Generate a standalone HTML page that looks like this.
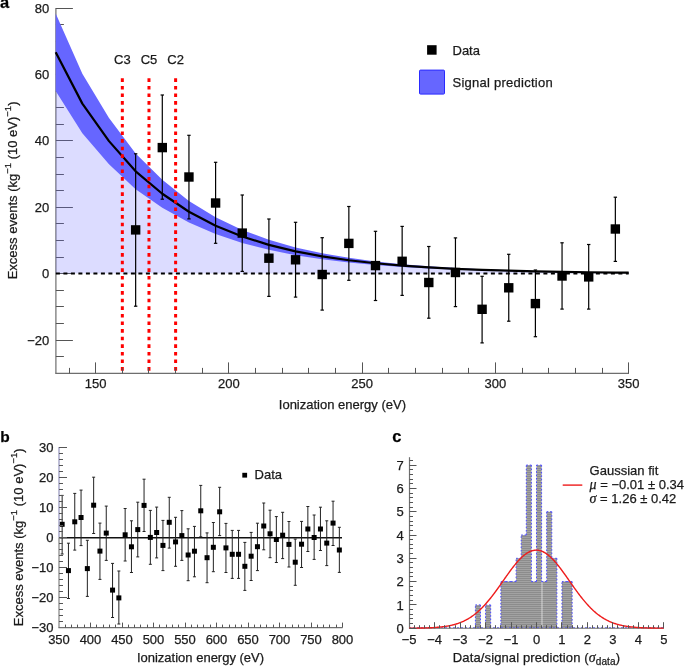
<!DOCTYPE html>
<html><head><meta charset="utf-8"><style>
html,body{margin:0;padding:0;background:#fff;}
svg{display:block;font-family:"Liberation Sans", sans-serif;will-change:transform;} text{stroke:#1a1a1a;stroke-width:0.25px;}
</style></head><body>
<svg width="685" height="666" viewBox="0 0 685 666">
<rect width="685" height="666" fill="#fff"/>
<line x1="55.9" y1="8" x2="55.9" y2="373.4" stroke="#6e6e6e" stroke-width="1.2"/>
<line x1="55.9" y1="356.50" x2="63.9" y2="356.50" stroke="#555" stroke-width="1"/>
<line x1="55.9" y1="340.50" x2="72.9" y2="340.50" stroke="#555" stroke-width="1"/>
<line x1="55.9" y1="323.50" x2="63.9" y2="323.50" stroke="#555" stroke-width="1"/>
<line x1="55.9" y1="306.50" x2="63.9" y2="306.50" stroke="#555" stroke-width="1"/>
<line x1="55.9" y1="290.50" x2="63.9" y2="290.50" stroke="#555" stroke-width="1"/>
<line x1="55.9" y1="273.50" x2="72.9" y2="273.50" stroke="#555" stroke-width="1"/>
<line x1="55.9" y1="257.50" x2="63.9" y2="257.50" stroke="#555" stroke-width="1"/>
<line x1="55.9" y1="240.50" x2="63.9" y2="240.50" stroke="#555" stroke-width="1"/>
<line x1="55.9" y1="223.50" x2="63.9" y2="223.50" stroke="#555" stroke-width="1"/>
<line x1="55.9" y1="207.50" x2="72.9" y2="207.50" stroke="#555" stroke-width="1"/>
<line x1="55.9" y1="190.50" x2="63.9" y2="190.50" stroke="#555" stroke-width="1"/>
<line x1="55.9" y1="174.50" x2="63.9" y2="174.50" stroke="#555" stroke-width="1"/>
<line x1="55.9" y1="157.50" x2="63.9" y2="157.50" stroke="#555" stroke-width="1"/>
<line x1="55.9" y1="140.50" x2="72.9" y2="140.50" stroke="#555" stroke-width="1"/>
<line x1="55.9" y1="124.50" x2="63.9" y2="124.50" stroke="#555" stroke-width="1"/>
<line x1="55.9" y1="107.50" x2="63.9" y2="107.50" stroke="#555" stroke-width="1"/>
<line x1="55.9" y1="91.50" x2="63.9" y2="91.50" stroke="#555" stroke-width="1"/>
<line x1="55.9" y1="74.50" x2="72.9" y2="74.50" stroke="#555" stroke-width="1"/>
<line x1="55.9" y1="57.50" x2="63.9" y2="57.50" stroke="#555" stroke-width="1"/>
<line x1="55.9" y1="41.50" x2="63.9" y2="41.50" stroke="#555" stroke-width="1"/>
<line x1="55.9" y1="24.50" x2="63.9" y2="24.50" stroke="#555" stroke-width="1"/>
<line x1="55.9" y1="8.50" x2="72.9" y2="8.50" stroke="#555" stroke-width="1"/>
<polygon points="55.70,273.60 55.70,52.16 82.35,103.62 109.00,141.13 135.65,171.34 162.30,193.78 188.95,211.75 215.60,225.68 242.25,236.47 268.90,244.83 295.55,251.31 322.20,256.33 348.85,260.22 375.50,263.23 402.15,265.56 428.80,267.37 455.45,268.78 482.10,269.86 508.75,270.70 535.40,271.36 562.05,271.86 588.70,272.25 615.35,272.56 628.68,272.68 628.68,273.60" fill="rgb(102,102,255)" fill-opacity="0.23"/>
<polygon points="55.70,13.40 82.35,73.87 109.00,117.95 135.65,153.45 162.30,179.81 188.95,200.93 215.60,217.29 242.25,229.97 268.90,239.79 295.55,247.41 322.20,253.30 348.85,257.87 375.50,261.41 402.15,264.16 428.80,266.28 455.45,267.93 482.10,269.21 508.75,270.20 535.40,270.96 562.05,271.56 588.70,272.02 615.35,272.37 628.68,272.52 628.68,272.84 615.35,272.74 588.70,272.49 562.05,272.17 535.40,271.75 508.75,271.21 482.10,270.52 455.45,269.62 428.80,268.46 402.15,266.97 375.50,265.04 348.85,262.56 322.20,259.35 295.55,255.21 268.90,249.86 242.25,242.97 215.60,234.07 188.95,222.58 162.30,207.75 135.65,189.24 109.00,164.31 82.35,133.36 55.70,90.91" fill="#6666ff"/>
<line x1="55.9" y1="273.60" x2="628.68" y2="273.60" stroke="#000" stroke-width="2" stroke-dasharray="4 3.5"/>
<polyline points="55.70,52.16 82.35,103.62 109.00,141.13 135.65,171.34 162.30,193.78 188.95,211.75 215.60,225.68 242.25,236.47 268.90,244.83 295.55,251.31 322.20,256.33 348.85,260.22 375.50,263.23 402.15,265.56 428.80,267.37 455.45,268.78 482.10,269.86 508.75,270.70 535.40,271.36 562.05,271.86 588.70,272.25 615.35,272.56 628.68,272.68" fill="none" stroke="#000" stroke-width="2.2" stroke-linejoin="round"/>
<line x1="122.33" y1="78.3" x2="122.33" y2="373.4" stroke="#ff0000" stroke-width="3" stroke-dasharray="3.6 4.0"/>
<line x1="148.98" y1="78.3" x2="148.98" y2="373.4" stroke="#ff0000" stroke-width="3" stroke-dasharray="3.6 4.0"/>
<line x1="175.62" y1="78.3" x2="175.62" y2="373.4" stroke="#ff0000" stroke-width="3" stroke-dasharray="3.6 4.0"/>
<text x="122.33" y="64" text-anchor="middle" font-size="13" fill="#1a1a1a">C3</text>
<text x="148.98" y="64" text-anchor="middle" font-size="13" fill="#1a1a1a">C5</text>
<text x="175.62" y="64" text-anchor="middle" font-size="13" fill="#1a1a1a">C2</text>
<line x1="135.65" y1="153.8" x2="135.65" y2="306.2" stroke="#000" stroke-width="1.2"/>
<line x1="133.95" y1="153.8" x2="137.35" y2="153.8" stroke="#000" stroke-width="1.2"/>
<line x1="133.95" y1="306.2" x2="137.35" y2="306.2" stroke="#000" stroke-width="1.2"/>
<rect x="130.95" y="225.20" width="9.4" height="9.4" fill="#000"/>
<line x1="162.30" y1="95.0" x2="162.30" y2="199.2" stroke="#000" stroke-width="1.2"/>
<line x1="160.60" y1="95.0" x2="164.00" y2="95.0" stroke="#000" stroke-width="1.2"/>
<line x1="160.60" y1="199.2" x2="164.00" y2="199.2" stroke="#000" stroke-width="1.2"/>
<rect x="157.60" y="142.90" width="9.4" height="9.4" fill="#000"/>
<line x1="188.95" y1="135.3" x2="188.95" y2="218.9" stroke="#000" stroke-width="1.2"/>
<line x1="187.25" y1="135.3" x2="190.65" y2="135.3" stroke="#000" stroke-width="1.2"/>
<line x1="187.25" y1="218.9" x2="190.65" y2="218.9" stroke="#000" stroke-width="1.2"/>
<rect x="184.25" y="172.30" width="9.4" height="9.4" fill="#000"/>
<line x1="215.60" y1="162.3" x2="215.60" y2="243.3" stroke="#000" stroke-width="1.2"/>
<line x1="213.90" y1="162.3" x2="217.30" y2="162.3" stroke="#000" stroke-width="1.2"/>
<line x1="213.90" y1="243.3" x2="217.30" y2="243.3" stroke="#000" stroke-width="1.2"/>
<rect x="210.90" y="198.30" width="9.4" height="9.4" fill="#000"/>
<line x1="242.25" y1="195.0" x2="242.25" y2="271.4" stroke="#000" stroke-width="1.2"/>
<line x1="240.55" y1="195.0" x2="243.95" y2="195.0" stroke="#000" stroke-width="1.2"/>
<line x1="240.55" y1="271.4" x2="243.95" y2="271.4" stroke="#000" stroke-width="1.2"/>
<rect x="237.55" y="228.40" width="9.4" height="9.4" fill="#000"/>
<line x1="268.90" y1="219.0" x2="268.90" y2="296.4" stroke="#000" stroke-width="1.2"/>
<line x1="267.20" y1="219.0" x2="270.60" y2="219.0" stroke="#000" stroke-width="1.2"/>
<line x1="267.20" y1="296.4" x2="270.60" y2="296.4" stroke="#000" stroke-width="1.2"/>
<rect x="264.20" y="253.50" width="9.4" height="9.4" fill="#000"/>
<line x1="295.55" y1="222.3" x2="295.55" y2="297.1" stroke="#000" stroke-width="1.2"/>
<line x1="293.85" y1="222.3" x2="297.25" y2="222.3" stroke="#000" stroke-width="1.2"/>
<line x1="293.85" y1="297.1" x2="297.25" y2="297.1" stroke="#000" stroke-width="1.2"/>
<rect x="290.85" y="255.10" width="9.4" height="9.4" fill="#000"/>
<line x1="322.20" y1="237.7" x2="322.20" y2="310.1" stroke="#000" stroke-width="1.2"/>
<line x1="320.50" y1="237.7" x2="323.90" y2="237.7" stroke="#000" stroke-width="1.2"/>
<line x1="320.50" y1="310.1" x2="323.90" y2="310.1" stroke="#000" stroke-width="1.2"/>
<rect x="317.50" y="269.80" width="9.4" height="9.4" fill="#000"/>
<line x1="348.85" y1="206.5" x2="348.85" y2="280.3" stroke="#000" stroke-width="1.2"/>
<line x1="347.15" y1="206.5" x2="350.55" y2="206.5" stroke="#000" stroke-width="1.2"/>
<line x1="347.15" y1="280.3" x2="350.55" y2="280.3" stroke="#000" stroke-width="1.2"/>
<rect x="344.15" y="238.70" width="9.4" height="9.4" fill="#000"/>
<line x1="375.50" y1="231.3" x2="375.50" y2="300.5" stroke="#000" stroke-width="1.2"/>
<line x1="373.80" y1="231.3" x2="377.20" y2="231.3" stroke="#000" stroke-width="1.2"/>
<line x1="373.80" y1="300.5" x2="377.20" y2="300.5" stroke="#000" stroke-width="1.2"/>
<rect x="370.80" y="260.90" width="9.4" height="9.4" fill="#000"/>
<line x1="402.15" y1="226.4" x2="402.15" y2="295.4" stroke="#000" stroke-width="1.2"/>
<line x1="400.45" y1="226.4" x2="403.85" y2="226.4" stroke="#000" stroke-width="1.2"/>
<line x1="400.45" y1="295.4" x2="403.85" y2="295.4" stroke="#000" stroke-width="1.2"/>
<rect x="397.45" y="256.60" width="9.4" height="9.4" fill="#000"/>
<line x1="428.80" y1="246.5" x2="428.80" y2="318.2" stroke="#000" stroke-width="1.2"/>
<line x1="427.10" y1="246.5" x2="430.50" y2="246.5" stroke="#000" stroke-width="1.2"/>
<line x1="427.10" y1="318.2" x2="430.50" y2="318.2" stroke="#000" stroke-width="1.2"/>
<rect x="424.10" y="277.80" width="9.4" height="9.4" fill="#000"/>
<line x1="455.45" y1="237.9" x2="455.45" y2="306.6" stroke="#000" stroke-width="1.2"/>
<line x1="453.75" y1="237.9" x2="457.15" y2="237.9" stroke="#000" stroke-width="1.2"/>
<line x1="453.75" y1="306.6" x2="457.15" y2="306.6" stroke="#000" stroke-width="1.2"/>
<rect x="450.75" y="267.80" width="9.4" height="9.4" fill="#000"/>
<line x1="482.10" y1="276.3" x2="482.10" y2="342.9" stroke="#000" stroke-width="1.2"/>
<line x1="480.40" y1="276.3" x2="483.80" y2="276.3" stroke="#000" stroke-width="1.2"/>
<line x1="480.40" y1="342.9" x2="483.80" y2="342.9" stroke="#000" stroke-width="1.2"/>
<rect x="477.40" y="304.60" width="9.4" height="9.4" fill="#000"/>
<line x1="508.75" y1="254.3" x2="508.75" y2="321.2" stroke="#000" stroke-width="1.2"/>
<line x1="507.05" y1="254.3" x2="510.45" y2="254.3" stroke="#000" stroke-width="1.2"/>
<line x1="507.05" y1="321.2" x2="510.45" y2="321.2" stroke="#000" stroke-width="1.2"/>
<rect x="504.05" y="283.10" width="9.4" height="9.4" fill="#000"/>
<line x1="535.40" y1="270.0" x2="535.40" y2="336.7" stroke="#000" stroke-width="1.2"/>
<line x1="533.70" y1="270.0" x2="537.10" y2="270.0" stroke="#000" stroke-width="1.2"/>
<line x1="533.70" y1="336.7" x2="537.10" y2="336.7" stroke="#000" stroke-width="1.2"/>
<rect x="530.70" y="298.90" width="9.4" height="9.4" fill="#000"/>
<line x1="562.05" y1="242.8" x2="562.05" y2="309.1" stroke="#000" stroke-width="1.2"/>
<line x1="560.35" y1="242.8" x2="563.75" y2="242.8" stroke="#000" stroke-width="1.2"/>
<line x1="560.35" y1="309.1" x2="563.75" y2="309.1" stroke="#000" stroke-width="1.2"/>
<rect x="557.35" y="271.30" width="9.4" height="9.4" fill="#000"/>
<line x1="588.70" y1="244.5" x2="588.70" y2="309.1" stroke="#000" stroke-width="1.2"/>
<line x1="587.00" y1="244.5" x2="590.40" y2="244.5" stroke="#000" stroke-width="1.2"/>
<line x1="587.00" y1="309.1" x2="590.40" y2="309.1" stroke="#000" stroke-width="1.2"/>
<rect x="584.00" y="272.20" width="9.4" height="9.4" fill="#000"/>
<line x1="615.35" y1="197.2" x2="615.35" y2="261.4" stroke="#000" stroke-width="1.2"/>
<line x1="613.65" y1="197.2" x2="617.05" y2="197.2" stroke="#000" stroke-width="1.2"/>
<line x1="613.65" y1="261.4" x2="617.05" y2="261.4" stroke="#000" stroke-width="1.2"/>
<rect x="610.65" y="224.30" width="9.4" height="9.4" fill="#000"/>
<line x1="55.3" y1="373.4" x2="629.0" y2="373.4" stroke="#6e6e6e" stroke-width="1.2"/>
<text x="49.3" y="344.65" text-anchor="end" font-size="13" fill="#1a1a1a">−20</text>
<text x="49.3" y="278.25" text-anchor="end" font-size="13" fill="#1a1a1a">0</text>
<text x="49.3" y="211.85" text-anchor="end" font-size="13" fill="#1a1a1a">20</text>
<text x="49.3" y="145.45" text-anchor="end" font-size="13" fill="#1a1a1a">40</text>
<text x="49.3" y="79.05" text-anchor="end" font-size="13" fill="#1a1a1a">60</text>
<text x="49.3" y="12.65" text-anchor="end" font-size="13" fill="#1a1a1a">80</text>
<line x1="69.50" y1="373.4" x2="69.50" y2="367.9" stroke="#555" stroke-width="1"/>
<line x1="95.50" y1="373.4" x2="95.50" y2="362.4" stroke="#555" stroke-width="1"/>
<text x="95.68" y="388.4" text-anchor="middle" font-size="13" fill="#1a1a1a">150</text>
<line x1="122.50" y1="373.4" x2="122.50" y2="367.9" stroke="#555" stroke-width="1"/>
<line x1="148.50" y1="373.4" x2="148.50" y2="367.9" stroke="#555" stroke-width="1"/>
<line x1="175.50" y1="373.4" x2="175.50" y2="367.9" stroke="#555" stroke-width="1"/>
<line x1="202.50" y1="373.4" x2="202.50" y2="367.9" stroke="#555" stroke-width="1"/>
<line x1="228.50" y1="373.4" x2="228.50" y2="362.4" stroke="#555" stroke-width="1"/>
<text x="228.93" y="388.4" text-anchor="middle" font-size="13" fill="#1a1a1a">200</text>
<line x1="255.50" y1="373.4" x2="255.50" y2="367.9" stroke="#555" stroke-width="1"/>
<line x1="282.50" y1="373.4" x2="282.50" y2="367.9" stroke="#555" stroke-width="1"/>
<line x1="308.50" y1="373.4" x2="308.50" y2="367.9" stroke="#555" stroke-width="1"/>
<line x1="335.50" y1="373.4" x2="335.50" y2="367.9" stroke="#555" stroke-width="1"/>
<line x1="362.50" y1="373.4" x2="362.50" y2="362.4" stroke="#555" stroke-width="1"/>
<text x="362.18" y="388.4" text-anchor="middle" font-size="13" fill="#1a1a1a">250</text>
<line x1="388.50" y1="373.4" x2="388.50" y2="367.9" stroke="#555" stroke-width="1"/>
<line x1="415.50" y1="373.4" x2="415.50" y2="367.9" stroke="#555" stroke-width="1"/>
<line x1="442.50" y1="373.4" x2="442.50" y2="367.9" stroke="#555" stroke-width="1"/>
<line x1="468.50" y1="373.4" x2="468.50" y2="367.9" stroke="#555" stroke-width="1"/>
<line x1="495.50" y1="373.4" x2="495.50" y2="362.4" stroke="#555" stroke-width="1"/>
<text x="495.43" y="388.4" text-anchor="middle" font-size="13" fill="#1a1a1a">300</text>
<line x1="522.50" y1="373.4" x2="522.50" y2="367.9" stroke="#555" stroke-width="1"/>
<line x1="548.50" y1="373.4" x2="548.50" y2="367.9" stroke="#555" stroke-width="1"/>
<line x1="575.50" y1="373.4" x2="575.50" y2="367.9" stroke="#555" stroke-width="1"/>
<line x1="602.50" y1="373.4" x2="602.50" y2="367.9" stroke="#555" stroke-width="1"/>
<line x1="628.50" y1="373.4" x2="628.50" y2="362.4" stroke="#555" stroke-width="1"/>
<text x="628.68" y="388.4" text-anchor="middle" font-size="13" fill="#1a1a1a">350</text>
<text x="342.4" y="409.3" text-anchor="middle" font-size="13" fill="#1a1a1a">Ionization energy (eV)</text>
<text transform="translate(16.8,279.3) rotate(-90)" x="0" y="0" font-size="13" fill="#1a1a1a">Excess events (kg<tspan dy="-6" font-size="9.5">−1</tspan><tspan dy="6"> (10 eV)</tspan><tspan dy="-6" font-size="9.5">−1</tspan><tspan dy="6">)</tspan></text>
<rect x="427.1" y="45.2" width="9.5" height="9.5" fill="#000"/>
<text x="452.5" y="55" font-size="13" fill="#1a1a1a">Data</text>
<rect x="419.5" y="70.1" width="25" height="24" rx="1" fill="#6666ff" stroke="#2a2aff" stroke-width="1"/>
<text x="452.5" y="86.6" font-size="13" letter-spacing="0.25" fill="#1a1a1a">Signal prediction</text>
<text x="0" y="8.1" font-size="16.5" font-weight="bold" fill="#000">a</text>
<line x1="59" y1="537.7" x2="342" y2="537.7" stroke="#111" stroke-width="1.6"/>
<line x1="62.15" y1="495.4" x2="62.15" y2="554.0" stroke="#222" stroke-width="1"/>
<line x1="60.65" y1="495.4" x2="63.65" y2="495.4" stroke="#222" stroke-width="1"/>
<line x1="60.65" y1="554.0" x2="63.65" y2="554.0" stroke="#222" stroke-width="1"/>
<rect x="59.65" y="521.80" width="5" height="5" fill="#000"/>
<line x1="68.45" y1="543.2" x2="68.45" y2="598.5" stroke="#222" stroke-width="1"/>
<line x1="66.95" y1="543.2" x2="69.95" y2="543.2" stroke="#222" stroke-width="1"/>
<line x1="66.95" y1="598.5" x2="69.95" y2="598.5" stroke="#222" stroke-width="1"/>
<rect x="65.95" y="568.10" width="5" height="5" fill="#000"/>
<line x1="74.75" y1="493.4" x2="74.75" y2="550.1" stroke="#222" stroke-width="1"/>
<line x1="73.25" y1="493.4" x2="76.25" y2="493.4" stroke="#222" stroke-width="1"/>
<line x1="73.25" y1="550.1" x2="76.25" y2="550.1" stroke="#222" stroke-width="1"/>
<rect x="72.25" y="519.30" width="5" height="5" fill="#000"/>
<line x1="81.05" y1="490.1" x2="81.05" y2="545.6" stroke="#222" stroke-width="1"/>
<line x1="79.55" y1="490.1" x2="82.55" y2="490.1" stroke="#222" stroke-width="1"/>
<line x1="79.55" y1="545.6" x2="82.55" y2="545.6" stroke="#222" stroke-width="1"/>
<rect x="78.55" y="515.00" width="5" height="5" fill="#000"/>
<line x1="87.35" y1="540.3" x2="87.35" y2="596.4" stroke="#222" stroke-width="1"/>
<line x1="85.85" y1="540.3" x2="88.85" y2="540.3" stroke="#222" stroke-width="1"/>
<line x1="85.85" y1="596.4" x2="88.85" y2="596.4" stroke="#222" stroke-width="1"/>
<rect x="84.85" y="566.10" width="5" height="5" fill="#000"/>
<line x1="93.65" y1="477.2" x2="93.65" y2="533.5" stroke="#222" stroke-width="1"/>
<line x1="92.15" y1="477.2" x2="95.15" y2="477.2" stroke="#222" stroke-width="1"/>
<line x1="92.15" y1="533.5" x2="95.15" y2="533.5" stroke="#222" stroke-width="1"/>
<rect x="91.15" y="502.70" width="5" height="5" fill="#000"/>
<line x1="99.95" y1="523.1" x2="99.95" y2="579.4" stroke="#222" stroke-width="1"/>
<line x1="98.45" y1="523.1" x2="101.45" y2="523.1" stroke="#222" stroke-width="1"/>
<line x1="98.45" y1="579.4" x2="101.45" y2="579.4" stroke="#222" stroke-width="1"/>
<rect x="97.45" y="548.60" width="5" height="5" fill="#000"/>
<line x1="106.25" y1="506.1" x2="106.25" y2="560.4" stroke="#222" stroke-width="1"/>
<line x1="104.75" y1="506.1" x2="107.75" y2="506.1" stroke="#222" stroke-width="1"/>
<line x1="104.75" y1="560.4" x2="107.75" y2="560.4" stroke="#222" stroke-width="1"/>
<rect x="103.75" y="530.60" width="5" height="5" fill="#000"/>
<line x1="112.55" y1="563.4" x2="112.55" y2="617.5" stroke="#222" stroke-width="1"/>
<line x1="111.05" y1="563.4" x2="114.05" y2="563.4" stroke="#222" stroke-width="1"/>
<line x1="111.05" y1="617.5" x2="114.05" y2="617.5" stroke="#222" stroke-width="1"/>
<rect x="110.05" y="587.60" width="5" height="5" fill="#000"/>
<line x1="118.85" y1="571.0" x2="118.85" y2="624.0" stroke="#222" stroke-width="1"/>
<line x1="117.35" y1="571.0" x2="120.35" y2="571.0" stroke="#222" stroke-width="1"/>
<line x1="117.35" y1="624.0" x2="120.35" y2="624.0" stroke="#222" stroke-width="1"/>
<rect x="116.35" y="595.40" width="5" height="5" fill="#000"/>
<line x1="125.15" y1="508.5" x2="125.15" y2="561.0" stroke="#222" stroke-width="1"/>
<line x1="123.65" y1="508.5" x2="126.65" y2="508.5" stroke="#222" stroke-width="1"/>
<line x1="123.65" y1="561.0" x2="126.65" y2="561.0" stroke="#222" stroke-width="1"/>
<rect x="122.65" y="532.30" width="5" height="5" fill="#000"/>
<line x1="131.45" y1="520.8" x2="131.45" y2="572.5" stroke="#222" stroke-width="1"/>
<line x1="129.95" y1="520.8" x2="132.95" y2="520.8" stroke="#222" stroke-width="1"/>
<line x1="129.95" y1="572.5" x2="132.95" y2="572.5" stroke="#222" stroke-width="1"/>
<rect x="128.95" y="544.30" width="5" height="5" fill="#000"/>
<line x1="137.75" y1="502.2" x2="137.75" y2="556.9" stroke="#222" stroke-width="1"/>
<line x1="136.25" y1="502.2" x2="139.25" y2="502.2" stroke="#222" stroke-width="1"/>
<line x1="136.25" y1="556.9" x2="139.25" y2="556.9" stroke="#222" stroke-width="1"/>
<rect x="135.25" y="527.10" width="5" height="5" fill="#000"/>
<line x1="144.05" y1="479.2" x2="144.05" y2="531.5" stroke="#222" stroke-width="1"/>
<line x1="142.55" y1="479.2" x2="145.55" y2="479.2" stroke="#222" stroke-width="1"/>
<line x1="142.55" y1="531.5" x2="145.55" y2="531.5" stroke="#222" stroke-width="1"/>
<rect x="141.55" y="502.90" width="5" height="5" fill="#000"/>
<line x1="150.35" y1="510.4" x2="150.35" y2="564.3" stroke="#222" stroke-width="1"/>
<line x1="148.85" y1="510.4" x2="151.85" y2="510.4" stroke="#222" stroke-width="1"/>
<line x1="148.85" y1="564.3" x2="151.85" y2="564.3" stroke="#222" stroke-width="1"/>
<rect x="147.85" y="534.90" width="5" height="5" fill="#000"/>
<line x1="156.65" y1="507.1" x2="156.65" y2="557.9" stroke="#222" stroke-width="1"/>
<line x1="155.15" y1="507.1" x2="158.15" y2="507.1" stroke="#222" stroke-width="1"/>
<line x1="155.15" y1="557.9" x2="158.15" y2="557.9" stroke="#222" stroke-width="1"/>
<rect x="154.15" y="530.00" width="5" height="5" fill="#000"/>
<line x1="162.95" y1="520.4" x2="162.95" y2="570.6" stroke="#222" stroke-width="1"/>
<line x1="161.45" y1="520.4" x2="164.45" y2="520.4" stroke="#222" stroke-width="1"/>
<line x1="161.45" y1="570.6" x2="164.45" y2="570.6" stroke="#222" stroke-width="1"/>
<rect x="160.45" y="542.90" width="5" height="5" fill="#000"/>
<line x1="169.25" y1="497.3" x2="169.25" y2="548.1" stroke="#222" stroke-width="1"/>
<line x1="167.75" y1="497.3" x2="170.75" y2="497.3" stroke="#222" stroke-width="1"/>
<line x1="167.75" y1="548.1" x2="170.75" y2="548.1" stroke="#222" stroke-width="1"/>
<rect x="166.75" y="519.80" width="5" height="5" fill="#000"/>
<line x1="175.55" y1="517.3" x2="175.55" y2="566.3" stroke="#222" stroke-width="1"/>
<line x1="174.05" y1="517.3" x2="177.05" y2="517.3" stroke="#222" stroke-width="1"/>
<line x1="174.05" y1="566.3" x2="177.05" y2="566.3" stroke="#222" stroke-width="1"/>
<rect x="173.05" y="539.40" width="5" height="5" fill="#000"/>
<line x1="181.85" y1="510.6" x2="181.85" y2="560.4" stroke="#222" stroke-width="1"/>
<line x1="180.35" y1="510.6" x2="183.35" y2="510.6" stroke="#222" stroke-width="1"/>
<line x1="180.35" y1="560.4" x2="183.35" y2="560.4" stroke="#222" stroke-width="1"/>
<rect x="179.35" y="533.10" width="5" height="5" fill="#000"/>
<line x1="188.15" y1="528.8" x2="188.15" y2="580.7" stroke="#222" stroke-width="1"/>
<line x1="186.65" y1="528.8" x2="189.65" y2="528.8" stroke="#222" stroke-width="1"/>
<line x1="186.65" y1="580.7" x2="189.65" y2="580.7" stroke="#222" stroke-width="1"/>
<rect x="185.65" y="552.50" width="5" height="5" fill="#000"/>
<line x1="194.45" y1="526.4" x2="194.45" y2="576.8" stroke="#222" stroke-width="1"/>
<line x1="192.95" y1="526.4" x2="195.95" y2="526.4" stroke="#222" stroke-width="1"/>
<line x1="192.95" y1="576.8" x2="195.95" y2="576.8" stroke="#222" stroke-width="1"/>
<rect x="191.95" y="548.70" width="5" height="5" fill="#000"/>
<line x1="200.75" y1="485.4" x2="200.75" y2="536.8" stroke="#222" stroke-width="1"/>
<line x1="199.25" y1="485.4" x2="202.25" y2="485.4" stroke="#222" stroke-width="1"/>
<line x1="199.25" y1="536.8" x2="202.25" y2="536.8" stroke="#222" stroke-width="1"/>
<rect x="198.25" y="508.30" width="5" height="5" fill="#000"/>
<line x1="207.05" y1="532.9" x2="207.05" y2="582.7" stroke="#222" stroke-width="1"/>
<line x1="205.55" y1="532.9" x2="208.55" y2="532.9" stroke="#222" stroke-width="1"/>
<line x1="205.55" y1="582.7" x2="208.55" y2="582.7" stroke="#222" stroke-width="1"/>
<rect x="204.55" y="555.20" width="5" height="5" fill="#000"/>
<line x1="213.35" y1="522.5" x2="213.35" y2="571.7" stroke="#222" stroke-width="1"/>
<line x1="211.85" y1="522.5" x2="214.85" y2="522.5" stroke="#222" stroke-width="1"/>
<line x1="211.85" y1="571.7" x2="214.85" y2="571.7" stroke="#222" stroke-width="1"/>
<rect x="210.85" y="544.80" width="5" height="5" fill="#000"/>
<line x1="219.65" y1="487.3" x2="219.65" y2="535.6" stroke="#222" stroke-width="1"/>
<line x1="218.15" y1="487.3" x2="221.15" y2="487.3" stroke="#222" stroke-width="1"/>
<line x1="218.15" y1="535.6" x2="221.15" y2="535.6" stroke="#222" stroke-width="1"/>
<rect x="217.15" y="509.30" width="5" height="5" fill="#000"/>
<line x1="225.95" y1="523.4" x2="225.95" y2="572.5" stroke="#222" stroke-width="1"/>
<line x1="224.45" y1="523.4" x2="227.45" y2="523.4" stroke="#222" stroke-width="1"/>
<line x1="224.45" y1="572.5" x2="227.45" y2="572.5" stroke="#222" stroke-width="1"/>
<rect x="223.45" y="545.40" width="5" height="5" fill="#000"/>
<line x1="232.25" y1="530.4" x2="232.25" y2="578.4" stroke="#222" stroke-width="1"/>
<line x1="230.75" y1="530.4" x2="233.75" y2="530.4" stroke="#222" stroke-width="1"/>
<line x1="230.75" y1="578.4" x2="233.75" y2="578.4" stroke="#222" stroke-width="1"/>
<rect x="229.75" y="551.80" width="5" height="5" fill="#000"/>
<line x1="238.55" y1="530.4" x2="238.55" y2="578.4" stroke="#222" stroke-width="1"/>
<line x1="237.05" y1="530.4" x2="240.05" y2="530.4" stroke="#222" stroke-width="1"/>
<line x1="237.05" y1="578.4" x2="240.05" y2="578.4" stroke="#222" stroke-width="1"/>
<rect x="236.05" y="551.80" width="5" height="5" fill="#000"/>
<line x1="244.85" y1="542.4" x2="244.85" y2="590.4" stroke="#222" stroke-width="1"/>
<line x1="243.35" y1="542.4" x2="246.35" y2="542.4" stroke="#222" stroke-width="1"/>
<line x1="243.35" y1="590.4" x2="246.35" y2="590.4" stroke="#222" stroke-width="1"/>
<rect x="242.35" y="563.80" width="5" height="5" fill="#000"/>
<line x1="251.15" y1="532.4" x2="251.15" y2="580.5" stroke="#222" stroke-width="1"/>
<line x1="249.65" y1="532.4" x2="252.65" y2="532.4" stroke="#222" stroke-width="1"/>
<line x1="249.65" y1="580.5" x2="252.65" y2="580.5" stroke="#222" stroke-width="1"/>
<rect x="248.65" y="553.70" width="5" height="5" fill="#000"/>
<line x1="257.45" y1="523.2" x2="257.45" y2="570.6" stroke="#222" stroke-width="1"/>
<line x1="255.95" y1="523.2" x2="258.95" y2="523.2" stroke="#222" stroke-width="1"/>
<line x1="255.95" y1="570.6" x2="258.95" y2="570.6" stroke="#222" stroke-width="1"/>
<rect x="254.95" y="544.20" width="5" height="5" fill="#000"/>
<line x1="263.75" y1="503.0" x2="263.75" y2="549.8" stroke="#222" stroke-width="1"/>
<line x1="262.25" y1="503.0" x2="265.25" y2="503.0" stroke="#222" stroke-width="1"/>
<line x1="262.25" y1="549.8" x2="265.25" y2="549.8" stroke="#222" stroke-width="1"/>
<rect x="261.25" y="523.50" width="5" height="5" fill="#000"/>
<line x1="270.05" y1="510.2" x2="270.05" y2="557.7" stroke="#222" stroke-width="1"/>
<line x1="268.55" y1="510.2" x2="271.55" y2="510.2" stroke="#222" stroke-width="1"/>
<line x1="268.55" y1="557.7" x2="271.55" y2="557.7" stroke="#222" stroke-width="1"/>
<rect x="267.55" y="531.30" width="5" height="5" fill="#000"/>
<line x1="276.35" y1="516.6" x2="276.35" y2="562.5" stroke="#222" stroke-width="1"/>
<line x1="274.85" y1="516.6" x2="277.85" y2="516.6" stroke="#222" stroke-width="1"/>
<line x1="274.85" y1="562.5" x2="277.85" y2="562.5" stroke="#222" stroke-width="1"/>
<rect x="273.85" y="537.00" width="5" height="5" fill="#000"/>
<line x1="282.65" y1="512.3" x2="282.65" y2="558.6" stroke="#222" stroke-width="1"/>
<line x1="281.15" y1="512.3" x2="284.15" y2="512.3" stroke="#222" stroke-width="1"/>
<line x1="281.15" y1="558.6" x2="284.15" y2="558.6" stroke="#222" stroke-width="1"/>
<rect x="280.15" y="532.70" width="5" height="5" fill="#000"/>
<line x1="288.95" y1="521.5" x2="288.95" y2="567.0" stroke="#222" stroke-width="1"/>
<line x1="287.45" y1="521.5" x2="290.45" y2="521.5" stroke="#222" stroke-width="1"/>
<line x1="287.45" y1="567.0" x2="290.45" y2="567.0" stroke="#222" stroke-width="1"/>
<rect x="286.45" y="541.90" width="5" height="5" fill="#000"/>
<line x1="295.25" y1="539.1" x2="295.25" y2="585.3" stroke="#222" stroke-width="1"/>
<line x1="293.75" y1="539.1" x2="296.75" y2="539.1" stroke="#222" stroke-width="1"/>
<line x1="293.75" y1="585.3" x2="296.75" y2="585.3" stroke="#222" stroke-width="1"/>
<rect x="292.75" y="559.70" width="5" height="5" fill="#000"/>
<line x1="301.55" y1="521.4" x2="301.55" y2="567.5" stroke="#222" stroke-width="1"/>
<line x1="300.05" y1="521.4" x2="303.05" y2="521.4" stroke="#222" stroke-width="1"/>
<line x1="300.05" y1="567.5" x2="303.05" y2="567.5" stroke="#222" stroke-width="1"/>
<rect x="299.05" y="541.70" width="5" height="5" fill="#000"/>
<line x1="307.85" y1="506.5" x2="307.85" y2="551.5" stroke="#222" stroke-width="1"/>
<line x1="306.35" y1="506.5" x2="309.35" y2="506.5" stroke="#222" stroke-width="1"/>
<line x1="306.35" y1="551.5" x2="309.35" y2="551.5" stroke="#222" stroke-width="1"/>
<rect x="305.35" y="526.50" width="5" height="5" fill="#000"/>
<line x1="314.15" y1="515.0" x2="314.15" y2="559.4" stroke="#222" stroke-width="1"/>
<line x1="312.65" y1="515.0" x2="315.65" y2="515.0" stroke="#222" stroke-width="1"/>
<line x1="312.65" y1="559.4" x2="315.65" y2="559.4" stroke="#222" stroke-width="1"/>
<rect x="311.65" y="535.00" width="5" height="5" fill="#000"/>
<line x1="320.45" y1="507.2" x2="320.45" y2="550.5" stroke="#222" stroke-width="1"/>
<line x1="318.95" y1="507.2" x2="321.95" y2="507.2" stroke="#222" stroke-width="1"/>
<line x1="318.95" y1="550.5" x2="321.95" y2="550.5" stroke="#222" stroke-width="1"/>
<rect x="317.95" y="526.50" width="5" height="5" fill="#000"/>
<line x1="326.75" y1="520.8" x2="326.75" y2="565.6" stroke="#222" stroke-width="1"/>
<line x1="325.25" y1="520.8" x2="328.25" y2="520.8" stroke="#222" stroke-width="1"/>
<line x1="325.25" y1="565.6" x2="328.25" y2="565.6" stroke="#222" stroke-width="1"/>
<rect x="324.25" y="540.60" width="5" height="5" fill="#000"/>
<line x1="333.05" y1="501.2" x2="333.05" y2="545.5" stroke="#222" stroke-width="1"/>
<line x1="331.55" y1="501.2" x2="334.55" y2="501.2" stroke="#222" stroke-width="1"/>
<line x1="331.55" y1="545.5" x2="334.55" y2="545.5" stroke="#222" stroke-width="1"/>
<rect x="330.55" y="520.60" width="5" height="5" fill="#000"/>
<line x1="339.35" y1="527.3" x2="339.35" y2="572.4" stroke="#222" stroke-width="1"/>
<line x1="337.85" y1="527.3" x2="340.85" y2="527.3" stroke="#222" stroke-width="1"/>
<line x1="337.85" y1="572.4" x2="340.85" y2="572.4" stroke="#222" stroke-width="1"/>
<rect x="336.85" y="547.50" width="5" height="5" fill="#000"/>
<line x1="59" y1="447" x2="59" y2="537.4" stroke="#9a9ac0" stroke-width="1.3"/>
<line x1="59" y1="537.4" x2="59" y2="627.6" stroke="#8a8a8a" stroke-width="1.3"/>
<line x1="58.4" y1="627.6" x2="342.5" y2="627.6" stroke="#6e6e6e" stroke-width="1.2"/>
<line x1="59" y1="621.50" x2="63" y2="621.50" stroke="#555" stroke-width="1"/>
<line x1="59" y1="615.50" x2="63" y2="615.50" stroke="#555" stroke-width="1"/>
<line x1="59" y1="609.50" x2="63" y2="609.50" stroke="#555" stroke-width="1"/>
<line x1="59" y1="603.50" x2="63" y2="603.50" stroke="#555" stroke-width="1"/>
<line x1="59" y1="597.50" x2="67" y2="597.50" stroke="#555" stroke-width="1"/>
<line x1="59" y1="591.50" x2="63" y2="591.50" stroke="#555" stroke-width="1"/>
<line x1="59" y1="585.50" x2="63" y2="585.50" stroke="#555" stroke-width="1"/>
<line x1="59" y1="579.50" x2="63" y2="579.50" stroke="#555" stroke-width="1"/>
<line x1="59" y1="573.50" x2="63" y2="573.50" stroke="#555" stroke-width="1"/>
<line x1="59" y1="567.50" x2="67" y2="567.50" stroke="#555" stroke-width="1"/>
<line x1="59" y1="561.50" x2="63" y2="561.50" stroke="#555" stroke-width="1"/>
<line x1="59" y1="555.50" x2="63" y2="555.50" stroke="#555" stroke-width="1"/>
<line x1="59" y1="549.50" x2="63" y2="549.50" stroke="#555" stroke-width="1"/>
<line x1="59" y1="543.50" x2="63" y2="543.50" stroke="#555" stroke-width="1"/>
<line x1="59" y1="537.50" x2="67" y2="537.50" stroke="#555" stroke-width="1"/>
<line x1="59" y1="531.50" x2="63" y2="531.50" stroke="#555" stroke-width="1"/>
<line x1="59" y1="525.50" x2="63" y2="525.50" stroke="#555" stroke-width="1"/>
<line x1="59" y1="519.50" x2="63" y2="519.50" stroke="#555" stroke-width="1"/>
<line x1="59" y1="513.50" x2="63" y2="513.50" stroke="#555" stroke-width="1"/>
<line x1="59" y1="507.50" x2="67" y2="507.50" stroke="#555" stroke-width="1"/>
<line x1="59" y1="501.50" x2="63" y2="501.50" stroke="#555" stroke-width="1"/>
<line x1="59" y1="495.50" x2="63" y2="495.50" stroke="#555" stroke-width="1"/>
<line x1="59" y1="489.50" x2="63" y2="489.50" stroke="#555" stroke-width="1"/>
<line x1="59" y1="483.50" x2="63" y2="483.50" stroke="#555" stroke-width="1"/>
<line x1="59" y1="477.50" x2="67" y2="477.50" stroke="#555" stroke-width="1"/>
<line x1="59" y1="471.50" x2="63" y2="471.50" stroke="#555" stroke-width="1"/>
<line x1="59" y1="465.50" x2="63" y2="465.50" stroke="#555" stroke-width="1"/>
<line x1="59" y1="459.50" x2="63" y2="459.50" stroke="#555" stroke-width="1"/>
<line x1="59" y1="453.50" x2="63" y2="453.50" stroke="#555" stroke-width="1"/>
<line x1="59" y1="447.50" x2="67" y2="447.50" stroke="#555" stroke-width="1"/>
<text x="53.5" y="632.05" text-anchor="end" font-size="13" fill="#1a1a1a">−30</text>
<text x="53.5" y="602.05" text-anchor="end" font-size="13" fill="#1a1a1a">−20</text>
<text x="53.5" y="572.05" text-anchor="end" font-size="13" fill="#1a1a1a">−10</text>
<text x="53.5" y="542.05" text-anchor="end" font-size="13" fill="#1a1a1a">0</text>
<text x="53.5" y="512.05" text-anchor="end" font-size="13" fill="#1a1a1a">10</text>
<text x="53.5" y="482.05" text-anchor="end" font-size="13" fill="#1a1a1a">20</text>
<text x="53.5" y="452.05" text-anchor="end" font-size="13" fill="#1a1a1a">30</text>
<line x1="65.50" y1="627.6" x2="65.50" y2="624.6" stroke="#555" stroke-width="1"/>
<line x1="71.50" y1="627.6" x2="71.50" y2="624.6" stroke="#555" stroke-width="1"/>
<line x1="77.50" y1="627.6" x2="77.50" y2="624.6" stroke="#555" stroke-width="1"/>
<line x1="84.50" y1="627.6" x2="84.50" y2="624.6" stroke="#555" stroke-width="1"/>
<line x1="90.50" y1="627.6" x2="90.50" y2="622.6" stroke="#555" stroke-width="1"/>
<line x1="96.50" y1="627.6" x2="96.50" y2="624.6" stroke="#555" stroke-width="1"/>
<line x1="103.50" y1="627.6" x2="103.50" y2="624.6" stroke="#555" stroke-width="1"/>
<line x1="109.50" y1="627.6" x2="109.50" y2="624.6" stroke="#555" stroke-width="1"/>
<line x1="115.50" y1="627.6" x2="115.50" y2="624.6" stroke="#555" stroke-width="1"/>
<line x1="122.50" y1="627.6" x2="122.50" y2="622.6" stroke="#555" stroke-width="1"/>
<line x1="128.50" y1="627.6" x2="128.50" y2="624.6" stroke="#555" stroke-width="1"/>
<line x1="134.50" y1="627.6" x2="134.50" y2="624.6" stroke="#555" stroke-width="1"/>
<line x1="140.50" y1="627.6" x2="140.50" y2="624.6" stroke="#555" stroke-width="1"/>
<line x1="147.50" y1="627.6" x2="147.50" y2="624.6" stroke="#555" stroke-width="1"/>
<line x1="153.50" y1="627.6" x2="153.50" y2="622.6" stroke="#555" stroke-width="1"/>
<line x1="159.50" y1="627.6" x2="159.50" y2="624.6" stroke="#555" stroke-width="1"/>
<line x1="166.50" y1="627.6" x2="166.50" y2="624.6" stroke="#555" stroke-width="1"/>
<line x1="172.50" y1="627.6" x2="172.50" y2="624.6" stroke="#555" stroke-width="1"/>
<line x1="178.50" y1="627.6" x2="178.50" y2="624.6" stroke="#555" stroke-width="1"/>
<line x1="185.50" y1="627.6" x2="185.50" y2="622.6" stroke="#555" stroke-width="1"/>
<line x1="191.50" y1="627.6" x2="191.50" y2="624.6" stroke="#555" stroke-width="1"/>
<line x1="197.50" y1="627.6" x2="197.50" y2="624.6" stroke="#555" stroke-width="1"/>
<line x1="203.50" y1="627.6" x2="203.50" y2="624.6" stroke="#555" stroke-width="1"/>
<line x1="210.50" y1="627.6" x2="210.50" y2="624.6" stroke="#555" stroke-width="1"/>
<line x1="216.50" y1="627.6" x2="216.50" y2="622.6" stroke="#555" stroke-width="1"/>
<line x1="222.50" y1="627.6" x2="222.50" y2="624.6" stroke="#555" stroke-width="1"/>
<line x1="229.50" y1="627.6" x2="229.50" y2="624.6" stroke="#555" stroke-width="1"/>
<line x1="235.50" y1="627.6" x2="235.50" y2="624.6" stroke="#555" stroke-width="1"/>
<line x1="241.50" y1="627.6" x2="241.50" y2="624.6" stroke="#555" stroke-width="1"/>
<line x1="248.50" y1="627.6" x2="248.50" y2="622.6" stroke="#555" stroke-width="1"/>
<line x1="254.50" y1="627.6" x2="254.50" y2="624.6" stroke="#555" stroke-width="1"/>
<line x1="260.50" y1="627.6" x2="260.50" y2="624.6" stroke="#555" stroke-width="1"/>
<line x1="266.50" y1="627.6" x2="266.50" y2="624.6" stroke="#555" stroke-width="1"/>
<line x1="273.50" y1="627.6" x2="273.50" y2="624.6" stroke="#555" stroke-width="1"/>
<line x1="279.50" y1="627.6" x2="279.50" y2="622.6" stroke="#555" stroke-width="1"/>
<line x1="285.50" y1="627.6" x2="285.50" y2="624.6" stroke="#555" stroke-width="1"/>
<line x1="292.50" y1="627.6" x2="292.50" y2="624.6" stroke="#555" stroke-width="1"/>
<line x1="298.50" y1="627.6" x2="298.50" y2="624.6" stroke="#555" stroke-width="1"/>
<line x1="304.50" y1="627.6" x2="304.50" y2="624.6" stroke="#555" stroke-width="1"/>
<line x1="311.50" y1="627.6" x2="311.50" y2="622.6" stroke="#555" stroke-width="1"/>
<line x1="317.50" y1="627.6" x2="317.50" y2="624.6" stroke="#555" stroke-width="1"/>
<line x1="323.50" y1="627.6" x2="323.50" y2="624.6" stroke="#555" stroke-width="1"/>
<line x1="329.50" y1="627.6" x2="329.50" y2="624.6" stroke="#555" stroke-width="1"/>
<line x1="336.50" y1="627.6" x2="336.50" y2="624.6" stroke="#555" stroke-width="1"/>
<line x1="342.50" y1="627.6" x2="342.50" y2="622.6" stroke="#555" stroke-width="1"/>
<text x="59.00" y="644.2" text-anchor="middle" font-size="13" fill="#1a1a1a">350</text>
<text x="90.50" y="644.2" text-anchor="middle" font-size="13" fill="#1a1a1a">400</text>
<text x="122.00" y="644.2" text-anchor="middle" font-size="13" fill="#1a1a1a">450</text>
<text x="153.50" y="644.2" text-anchor="middle" font-size="13" fill="#1a1a1a">500</text>
<text x="185.00" y="644.2" text-anchor="middle" font-size="13" fill="#1a1a1a">550</text>
<text x="216.50" y="644.2" text-anchor="middle" font-size="13" fill="#1a1a1a">600</text>
<text x="248.00" y="644.2" text-anchor="middle" font-size="13" fill="#1a1a1a">650</text>
<text x="279.50" y="644.2" text-anchor="middle" font-size="13" fill="#1a1a1a">700</text>
<text x="311.00" y="644.2" text-anchor="middle" font-size="13" fill="#1a1a1a">750</text>
<text x="342.50" y="644.2" text-anchor="middle" font-size="13" fill="#1a1a1a">800</text>
<text x="200.5" y="661.9" text-anchor="middle" font-size="13" fill="#1a1a1a">Ionization energy (eV)</text>
<text transform="translate(22.8,626.2) rotate(-90)" x="0" y="0" font-size="13" fill="#1a1a1a">Excess events (kg<tspan dy="-6" font-size="9.5">−1</tspan><tspan dy="6"> (10 eV)</tspan><tspan dy="-6" font-size="9.5">−1</tspan><tspan dy="6">)</tspan></text>
<rect x="242.3" y="472.8" width="4.8" height="4.8" fill="#000"/>
<text x="254.6" y="479.2" font-size="13" fill="#1a1a1a">Data</text>
<text x="0.2" y="441.6" font-size="15.5" font-weight="bold" fill="#000">b</text>
<defs><pattern id="hs" width="4" height="2" patternUnits="userSpaceOnUse"><rect width="4" height="2" fill="#8c8c8c"/><rect y="1.2" width="4" height="0.8" fill="#a8a8a8"/></pattern></defs>
<path d="M475.40,628.20 L475.40,604.90 L480.49,604.90 L480.49,628.20 Z M485.58,628.20 L485.58,604.90 L490.67,604.90 L490.67,628.20 Z M500.86,628.20 L500.86,581.60 L505.95,581.60 L505.95,581.60 L511.04,581.60 L511.04,581.60 L516.13,581.60 L516.13,558.30 L521.22,558.30 L521.22,535.00 L526.32,535.00 L526.32,465.10 L531.41,465.10 L531.41,581.60 L536.50,581.60 L536.50,465.10 L541.59,465.10 L541.59,581.60 L546.68,581.60 L546.68,511.70 L551.78,511.70 L551.78,558.30 L556.87,558.30 L556.87,628.20 Z M561.96,628.20 L561.96,581.60 L567.05,581.60 L567.05,581.60 L572.14,581.60 L572.14,628.20 Z " fill="url(#hs)"/>
<line x1="541.99" y1="581.60" x2="541.99" y2="628.20" stroke="#e8e8e8" stroke-width="0.8"/>
<line x1="475.40" y1="628.20" x2="475.40" y2="604.90" stroke="#4a4aff" stroke-width="1" stroke-dasharray="1.6 1.8"/>
<line x1="475.40" y1="604.90" x2="480.49" y2="604.90" stroke="#4a4aff" stroke-width="1" stroke-dasharray="1.6 1.8"/>
<line x1="480.49" y1="604.90" x2="480.49" y2="628.20" stroke="#4a4aff" stroke-width="1" stroke-dasharray="1.6 1.8"/>
<line x1="485.58" y1="628.20" x2="485.58" y2="604.90" stroke="#4a4aff" stroke-width="1" stroke-dasharray="1.6 1.8"/>
<line x1="485.58" y1="604.90" x2="490.67" y2="604.90" stroke="#4a4aff" stroke-width="1" stroke-dasharray="1.6 1.8"/>
<line x1="490.67" y1="604.90" x2="490.67" y2="628.20" stroke="#4a4aff" stroke-width="1" stroke-dasharray="1.6 1.8"/>
<line x1="500.86" y1="628.20" x2="500.86" y2="581.60" stroke="#4a4aff" stroke-width="1" stroke-dasharray="1.6 1.8"/>
<line x1="500.86" y1="581.60" x2="505.95" y2="581.60" stroke="#4a4aff" stroke-width="1" stroke-dasharray="1.6 1.8"/>
<line x1="505.95" y1="581.60" x2="511.04" y2="581.60" stroke="#4a4aff" stroke-width="1" stroke-dasharray="1.6 1.8"/>
<line x1="511.04" y1="581.60" x2="516.13" y2="581.60" stroke="#4a4aff" stroke-width="1" stroke-dasharray="1.6 1.8"/>
<line x1="516.13" y1="581.60" x2="516.13" y2="558.30" stroke="#4a4aff" stroke-width="1" stroke-dasharray="1.6 1.8"/>
<line x1="516.13" y1="558.30" x2="521.22" y2="558.30" stroke="#4a4aff" stroke-width="1" stroke-dasharray="1.6 1.8"/>
<line x1="521.22" y1="558.30" x2="521.22" y2="535.00" stroke="#4a4aff" stroke-width="1" stroke-dasharray="1.6 1.8"/>
<line x1="521.22" y1="535.00" x2="526.32" y2="535.00" stroke="#4a4aff" stroke-width="1" stroke-dasharray="1.6 1.8"/>
<line x1="526.32" y1="535.00" x2="526.32" y2="465.10" stroke="#4a4aff" stroke-width="1" stroke-dasharray="1.6 1.8"/>
<line x1="526.32" y1="465.10" x2="531.41" y2="465.10" stroke="#4a4aff" stroke-width="1" stroke-dasharray="1.6 1.8"/>
<line x1="531.41" y1="465.10" x2="531.41" y2="581.60" stroke="#4a4aff" stroke-width="1" stroke-dasharray="1.6 1.8"/>
<line x1="531.41" y1="581.60" x2="536.50" y2="581.60" stroke="#4a4aff" stroke-width="1" stroke-dasharray="1.6 1.8"/>
<line x1="536.50" y1="581.60" x2="536.50" y2="465.10" stroke="#4a4aff" stroke-width="1" stroke-dasharray="1.6 1.8"/>
<line x1="536.50" y1="465.10" x2="541.59" y2="465.10" stroke="#4a4aff" stroke-width="1" stroke-dasharray="1.6 1.8"/>
<line x1="541.59" y1="465.10" x2="541.59" y2="581.60" stroke="#4a4aff" stroke-width="1" stroke-dasharray="1.6 1.8"/>
<line x1="541.59" y1="581.60" x2="546.68" y2="581.60" stroke="#4a4aff" stroke-width="1" stroke-dasharray="1.6 1.8"/>
<line x1="546.68" y1="581.60" x2="546.68" y2="511.70" stroke="#4a4aff" stroke-width="1" stroke-dasharray="1.6 1.8"/>
<line x1="546.68" y1="511.70" x2="551.78" y2="511.70" stroke="#4a4aff" stroke-width="1" stroke-dasharray="1.6 1.8"/>
<line x1="551.78" y1="511.70" x2="551.78" y2="558.30" stroke="#4a4aff" stroke-width="1" stroke-dasharray="1.6 1.8"/>
<line x1="551.78" y1="558.30" x2="556.87" y2="558.30" stroke="#4a4aff" stroke-width="1" stroke-dasharray="1.6 1.8"/>
<line x1="556.87" y1="558.30" x2="556.87" y2="628.20" stroke="#4a4aff" stroke-width="1" stroke-dasharray="1.6 1.8"/>
<line x1="561.96" y1="628.20" x2="561.96" y2="581.60" stroke="#4a4aff" stroke-width="1" stroke-dasharray="1.6 1.8"/>
<line x1="561.96" y1="581.60" x2="567.05" y2="581.60" stroke="#4a4aff" stroke-width="1" stroke-dasharray="1.6 1.8"/>
<line x1="567.05" y1="581.60" x2="572.14" y2="581.60" stroke="#4a4aff" stroke-width="1" stroke-dasharray="1.6 1.8"/>
<line x1="572.14" y1="581.60" x2="572.14" y2="628.20" stroke="#4a4aff" stroke-width="1" stroke-dasharray="1.6 1.8"/>
<line x1="409.2" y1="627.6" x2="663.8" y2="627.6" stroke="#5a5aff" stroke-width="1" stroke-dasharray="1.6 2.4"/>
<line x1="409.5" y1="457.2" x2="409.5" y2="628.2" stroke="#6e6e6e" stroke-width="1.2"/>
<line x1="408.9" y1="628.2" x2="663.8" y2="628.2" stroke="#6e6e6e" stroke-width="1.1"/>
<polyline points="409.20,628.15 409.84,628.15 410.47,628.14 411.11,628.14 411.75,628.13 412.38,628.13 413.02,628.12 413.66,628.12 414.29,628.11 414.93,628.11 415.56,628.10 416.20,628.09 416.84,628.08 417.47,628.08 418.11,628.07 418.75,628.06 419.38,628.05 420.02,628.04 420.66,628.02 421.29,628.01 421.93,628.00 422.57,627.99 423.20,627.97 423.84,627.96 424.48,627.94 425.11,627.92 425.75,627.90 426.39,627.88 427.02,627.86 427.66,627.84 428.29,627.82 428.93,627.79 429.57,627.77 430.20,627.74 430.84,627.71 431.48,627.68 432.11,627.65 432.75,627.61 433.39,627.58 434.02,627.54 434.66,627.50 435.30,627.45 435.93,627.41 436.57,627.36 437.21,627.31 437.84,627.26 438.48,627.21 439.12,627.15 439.75,627.09 440.39,627.02 441.02,626.96 441.66,626.88 442.30,626.81 442.93,626.73 443.57,626.65 444.21,626.57 444.84,626.48 445.48,626.38 446.12,626.28 446.75,626.18 447.39,626.07 448.03,625.96 448.66,625.85 449.30,625.72 449.94,625.60 450.57,625.46 451.21,625.32 451.85,625.18 452.48,625.03 453.12,624.87 453.75,624.70 454.39,624.53 455.03,624.36 455.66,624.17 456.30,623.98 456.94,623.78 457.57,623.57 458.21,623.35 458.85,623.13 459.48,622.90 460.12,622.66 460.76,622.41 461.39,622.15 462.03,621.88 462.67,621.60 463.30,621.32 463.94,621.02 464.58,620.71 465.21,620.40 465.85,620.07 466.49,619.73 467.12,619.38 467.76,619.02 468.39,618.65 469.03,618.27 469.67,617.88 470.30,617.47 470.94,617.06 471.58,616.63 472.21,616.19 472.85,615.73 473.49,615.27 474.12,614.79 474.76,614.30 475.40,613.80 476.03,613.28 476.67,612.75 477.31,612.21 477.94,611.66 478.58,611.09 479.21,610.51 479.85,609.92 480.49,609.31 481.12,608.70 481.76,608.06 482.40,607.42 483.03,606.76 483.67,606.09 484.31,605.41 484.94,604.72 485.58,604.01 486.22,603.30 486.85,602.57 487.49,601.82 488.13,601.07 488.76,600.31 489.40,599.53 490.04,598.75 490.67,597.95 491.31,597.15 491.94,596.33 492.58,595.50 493.22,594.67 493.85,593.83 494.49,592.98 495.13,592.12 495.76,591.25 496.40,590.38 497.04,589.50 497.67,588.62 498.31,587.73 498.95,586.83 499.58,585.94 500.22,585.03 500.86,584.13 501.49,583.22 502.13,582.31 502.77,581.40 503.40,580.49 504.04,579.58 504.68,578.67 505.31,577.77 505.95,576.86 506.58,575.96 507.22,575.06 507.86,574.17 508.49,573.28 509.13,572.40 509.77,571.52 510.40,570.65 511.04,569.79 511.68,568.94 512.31,568.10 512.95,567.27 513.59,566.45 514.22,565.65 514.86,564.85 515.50,564.07 516.13,563.31 516.77,562.55 517.40,561.82 518.04,561.10 518.68,560.40 519.31,559.72 519.95,559.05 520.59,558.41 521.22,557.78 521.86,557.18 522.50,556.60 523.13,556.04 523.77,555.50 524.41,554.98 525.04,554.49 525.68,554.02 526.32,553.58 526.95,553.16 527.59,552.77 528.23,552.40 528.86,552.06 529.50,551.75 530.13,551.46 530.77,551.21 531.41,550.97 532.04,550.77 532.68,550.60 533.32,550.45 533.95,550.33 534.59,550.24 535.23,550.18 535.86,550.15 536.50,550.15 537.14,550.17 537.77,550.23 538.41,550.31 539.05,550.42 539.68,550.56 540.32,550.73 540.96,550.93 541.59,551.16 542.23,551.41 542.87,551.69 543.50,552.00 544.14,552.33 544.77,552.69 545.41,553.08 546.05,553.49 546.68,553.93 547.32,554.39 547.96,554.88 548.59,555.39 549.23,555.93 549.87,556.48 550.50,557.06 551.14,557.66 551.78,558.28 552.41,558.92 553.05,559.58 553.69,560.26 554.32,560.96 554.96,561.67 555.60,562.41 556.23,563.15 556.87,563.92 557.50,564.69 558.14,565.49 558.78,566.29 559.41,567.11 560.05,567.93 560.69,568.77 561.32,569.62 561.96,570.48 562.60,571.35 563.23,572.22 563.87,573.10 564.51,573.99 565.14,574.88 565.78,575.78 566.42,576.68 567.05,577.58 567.69,578.49 568.33,579.40 568.96,580.31 569.60,581.22 570.23,582.13 570.87,583.04 571.51,583.95 572.14,584.85 572.78,585.76 573.42,586.66 574.05,587.55 574.69,588.44 575.33,589.33 575.96,590.21 576.60,591.08 577.24,591.95 577.87,592.81 578.51,593.66 579.15,594.50 579.78,595.34 580.42,596.17 581.06,596.98 581.69,597.79 582.33,598.59 582.96,599.38 583.60,600.15 584.24,600.92 584.87,601.67 585.51,602.42 586.15,603.15 586.78,603.87 587.42,604.58 588.06,605.28 588.69,605.96 589.33,606.63 589.97,607.29 590.60,607.94 591.24,608.57 591.88,609.19 592.51,609.80 593.15,610.39 593.78,610.98 594.42,611.55 595.06,612.10 595.69,612.65 596.33,613.18 596.97,613.69 597.60,614.20 598.24,614.69 598.88,615.17 599.51,615.64 600.15,616.10 600.79,616.54 601.42,616.97 602.06,617.39 602.70,617.80 603.33,618.19 603.97,618.58 604.61,618.95 605.24,619.31 605.88,619.66 606.51,620.00 607.15,620.33 607.79,620.65 608.42,620.96 609.06,621.26 609.70,621.55 610.33,621.83 610.97,622.10 611.61,622.36 612.24,622.61 612.88,622.85 613.52,623.08 614.15,623.31 614.79,623.53 615.43,623.74 616.06,623.94 616.70,624.13 617.34,624.32 617.97,624.50 618.61,624.67 619.25,624.84 619.88,624.99 620.52,625.15 621.15,625.29 621.79,625.43 622.43,625.57 623.06,625.70 623.70,625.82 624.34,625.94 624.97,626.05 625.61,626.16 626.25,626.26 626.88,626.36 627.52,626.46 628.16,626.55 628.79,626.63 629.43,626.72 630.07,626.80 630.70,626.87 631.34,626.94 631.98,627.01 632.61,627.07 633.25,627.14 633.88,627.19 634.52,627.25 635.16,627.30 635.79,627.35 636.43,627.40 637.07,627.45 637.70,627.49 638.34,627.53 638.98,627.57 639.61,627.61 640.25,627.64 640.89,627.67 641.52,627.70 642.16,627.73 642.80,627.76 643.43,627.79 644.07,627.81 644.70,627.84 645.34,627.86 645.98,627.88 646.61,627.90 647.25,627.92 647.89,627.94 648.52,627.95 649.16,627.97 649.80,627.98 650.43,628.00 651.07,628.01 651.71,628.02 652.34,628.03 652.98,628.04 653.62,628.05 654.25,628.06 654.89,628.07 655.53,628.08 656.16,628.09 656.80,628.10 657.43,628.10 658.07,628.11 658.71,628.12 659.34,628.12 659.98,628.13 660.62,628.13 661.25,628.14 661.89,628.14 662.53,628.15 663.16,628.15 663.80,628.15" fill="none" stroke="#ee1c1c" stroke-width="1.4"/>
<line x1="409.5" y1="628.50" x2="416.5" y2="628.50" stroke="#555" stroke-width="1"/>
<line x1="409.5" y1="623.50" x2="413.0" y2="623.50" stroke="#555" stroke-width="1"/>
<line x1="409.5" y1="618.50" x2="413.0" y2="618.50" stroke="#555" stroke-width="1"/>
<line x1="409.5" y1="614.50" x2="413.0" y2="614.50" stroke="#555" stroke-width="1"/>
<line x1="409.5" y1="609.50" x2="413.0" y2="609.50" stroke="#555" stroke-width="1"/>
<line x1="409.5" y1="604.50" x2="416.5" y2="604.50" stroke="#555" stroke-width="1"/>
<line x1="409.5" y1="600.50" x2="413.0" y2="600.50" stroke="#555" stroke-width="1"/>
<line x1="409.5" y1="595.50" x2="413.0" y2="595.50" stroke="#555" stroke-width="1"/>
<line x1="409.5" y1="590.50" x2="413.0" y2="590.50" stroke="#555" stroke-width="1"/>
<line x1="409.5" y1="586.50" x2="413.0" y2="586.50" stroke="#555" stroke-width="1"/>
<line x1="409.5" y1="581.50" x2="416.5" y2="581.50" stroke="#555" stroke-width="1"/>
<line x1="409.5" y1="576.50" x2="413.0" y2="576.50" stroke="#555" stroke-width="1"/>
<line x1="409.5" y1="572.50" x2="413.0" y2="572.50" stroke="#555" stroke-width="1"/>
<line x1="409.5" y1="567.50" x2="413.0" y2="567.50" stroke="#555" stroke-width="1"/>
<line x1="409.5" y1="562.50" x2="413.0" y2="562.50" stroke="#555" stroke-width="1"/>
<line x1="409.5" y1="558.50" x2="416.5" y2="558.50" stroke="#555" stroke-width="1"/>
<line x1="409.5" y1="553.50" x2="413.0" y2="553.50" stroke="#555" stroke-width="1"/>
<line x1="409.5" y1="548.50" x2="413.0" y2="548.50" stroke="#555" stroke-width="1"/>
<line x1="409.5" y1="544.50" x2="413.0" y2="544.50" stroke="#555" stroke-width="1"/>
<line x1="409.5" y1="539.50" x2="413.0" y2="539.50" stroke="#555" stroke-width="1"/>
<line x1="409.5" y1="535.50" x2="416.5" y2="535.50" stroke="#555" stroke-width="1"/>
<line x1="409.5" y1="530.50" x2="413.0" y2="530.50" stroke="#555" stroke-width="1"/>
<line x1="409.5" y1="525.50" x2="413.0" y2="525.50" stroke="#555" stroke-width="1"/>
<line x1="409.5" y1="521.50" x2="413.0" y2="521.50" stroke="#555" stroke-width="1"/>
<line x1="409.5" y1="516.50" x2="413.0" y2="516.50" stroke="#555" stroke-width="1"/>
<line x1="409.5" y1="511.50" x2="416.5" y2="511.50" stroke="#555" stroke-width="1"/>
<line x1="409.5" y1="507.50" x2="413.0" y2="507.50" stroke="#555" stroke-width="1"/>
<line x1="409.5" y1="502.50" x2="413.0" y2="502.50" stroke="#555" stroke-width="1"/>
<line x1="409.5" y1="497.50" x2="413.0" y2="497.50" stroke="#555" stroke-width="1"/>
<line x1="409.5" y1="493.50" x2="413.0" y2="493.50" stroke="#555" stroke-width="1"/>
<line x1="409.5" y1="488.50" x2="416.5" y2="488.50" stroke="#555" stroke-width="1"/>
<line x1="409.5" y1="483.50" x2="413.0" y2="483.50" stroke="#555" stroke-width="1"/>
<line x1="409.5" y1="479.50" x2="413.0" y2="479.50" stroke="#555" stroke-width="1"/>
<line x1="409.5" y1="474.50" x2="413.0" y2="474.50" stroke="#555" stroke-width="1"/>
<line x1="409.5" y1="469.50" x2="413.0" y2="469.50" stroke="#555" stroke-width="1"/>
<line x1="409.5" y1="465.50" x2="416.5" y2="465.50" stroke="#555" stroke-width="1"/>
<line x1="409.5" y1="460.50" x2="413.0" y2="460.50" stroke="#555" stroke-width="1"/>
<text x="403.8" y="632.85" text-anchor="end" font-size="13" fill="#1a1a1a">0</text>
<text x="403.8" y="609.55" text-anchor="end" font-size="13" fill="#1a1a1a">1</text>
<text x="403.8" y="586.25" text-anchor="end" font-size="13" fill="#1a1a1a">2</text>
<text x="403.8" y="562.95" text-anchor="end" font-size="13" fill="#1a1a1a">3</text>
<text x="403.8" y="539.65" text-anchor="end" font-size="13" fill="#1a1a1a">4</text>
<text x="403.8" y="516.35" text-anchor="end" font-size="13" fill="#1a1a1a">5</text>
<text x="403.8" y="493.05" text-anchor="end" font-size="13" fill="#1a1a1a">6</text>
<text x="403.8" y="469.75" text-anchor="end" font-size="13" fill="#1a1a1a">7</text>
<line x1="414.50" y1="628.2" x2="414.50" y2="625.2" stroke="#555" stroke-width="1"/>
<line x1="419.50" y1="628.2" x2="419.50" y2="625.2" stroke="#555" stroke-width="1"/>
<line x1="424.50" y1="628.2" x2="424.50" y2="625.2" stroke="#555" stroke-width="1"/>
<line x1="429.50" y1="628.2" x2="429.50" y2="625.2" stroke="#555" stroke-width="1"/>
<line x1="434.50" y1="628.2" x2="434.50" y2="622.2" stroke="#555" stroke-width="1"/>
<line x1="439.50" y1="628.2" x2="439.50" y2="625.2" stroke="#555" stroke-width="1"/>
<line x1="444.50" y1="628.2" x2="444.50" y2="625.2" stroke="#555" stroke-width="1"/>
<line x1="449.50" y1="628.2" x2="449.50" y2="625.2" stroke="#555" stroke-width="1"/>
<line x1="455.50" y1="628.2" x2="455.50" y2="625.2" stroke="#555" stroke-width="1"/>
<line x1="460.50" y1="628.2" x2="460.50" y2="622.2" stroke="#555" stroke-width="1"/>
<line x1="465.50" y1="628.2" x2="465.50" y2="625.2" stroke="#555" stroke-width="1"/>
<line x1="470.50" y1="628.2" x2="470.50" y2="625.2" stroke="#555" stroke-width="1"/>
<line x1="475.50" y1="628.2" x2="475.50" y2="625.2" stroke="#555" stroke-width="1"/>
<line x1="480.50" y1="628.2" x2="480.50" y2="625.2" stroke="#555" stroke-width="1"/>
<line x1="485.50" y1="628.2" x2="485.50" y2="622.2" stroke="#555" stroke-width="1"/>
<line x1="490.50" y1="628.2" x2="490.50" y2="625.2" stroke="#555" stroke-width="1"/>
<line x1="495.50" y1="628.2" x2="495.50" y2="625.2" stroke="#555" stroke-width="1"/>
<line x1="500.50" y1="628.2" x2="500.50" y2="625.2" stroke="#555" stroke-width="1"/>
<line x1="505.50" y1="628.2" x2="505.50" y2="625.2" stroke="#555" stroke-width="1"/>
<line x1="511.50" y1="628.2" x2="511.50" y2="622.2" stroke="#555" stroke-width="1"/>
<line x1="516.50" y1="628.2" x2="516.50" y2="625.2" stroke="#555" stroke-width="1"/>
<line x1="521.50" y1="628.2" x2="521.50" y2="625.2" stroke="#555" stroke-width="1"/>
<line x1="526.50" y1="628.2" x2="526.50" y2="625.2" stroke="#555" stroke-width="1"/>
<line x1="531.50" y1="628.2" x2="531.50" y2="625.2" stroke="#555" stroke-width="1"/>
<line x1="536.50" y1="628.2" x2="536.50" y2="622.2" stroke="#555" stroke-width="1"/>
<line x1="541.50" y1="628.2" x2="541.50" y2="625.2" stroke="#555" stroke-width="1"/>
<line x1="546.50" y1="628.2" x2="546.50" y2="625.2" stroke="#555" stroke-width="1"/>
<line x1="551.50" y1="628.2" x2="551.50" y2="625.2" stroke="#555" stroke-width="1"/>
<line x1="556.50" y1="628.2" x2="556.50" y2="625.2" stroke="#555" stroke-width="1"/>
<line x1="561.50" y1="628.2" x2="561.50" y2="622.2" stroke="#555" stroke-width="1"/>
<line x1="567.50" y1="628.2" x2="567.50" y2="625.2" stroke="#555" stroke-width="1"/>
<line x1="572.50" y1="628.2" x2="572.50" y2="625.2" stroke="#555" stroke-width="1"/>
<line x1="577.50" y1="628.2" x2="577.50" y2="625.2" stroke="#555" stroke-width="1"/>
<line x1="582.50" y1="628.2" x2="582.50" y2="625.2" stroke="#555" stroke-width="1"/>
<line x1="587.50" y1="628.2" x2="587.50" y2="622.2" stroke="#555" stroke-width="1"/>
<line x1="592.50" y1="628.2" x2="592.50" y2="625.2" stroke="#555" stroke-width="1"/>
<line x1="597.50" y1="628.2" x2="597.50" y2="625.2" stroke="#555" stroke-width="1"/>
<line x1="602.50" y1="628.2" x2="602.50" y2="625.2" stroke="#555" stroke-width="1"/>
<line x1="607.50" y1="628.2" x2="607.50" y2="625.2" stroke="#555" stroke-width="1"/>
<line x1="612.50" y1="628.2" x2="612.50" y2="622.2" stroke="#555" stroke-width="1"/>
<line x1="617.50" y1="628.2" x2="617.50" y2="625.2" stroke="#555" stroke-width="1"/>
<line x1="623.50" y1="628.2" x2="623.50" y2="625.2" stroke="#555" stroke-width="1"/>
<line x1="628.50" y1="628.2" x2="628.50" y2="625.2" stroke="#555" stroke-width="1"/>
<line x1="633.50" y1="628.2" x2="633.50" y2="625.2" stroke="#555" stroke-width="1"/>
<line x1="638.50" y1="628.2" x2="638.50" y2="622.2" stroke="#555" stroke-width="1"/>
<line x1="643.50" y1="628.2" x2="643.50" y2="625.2" stroke="#555" stroke-width="1"/>
<line x1="648.50" y1="628.2" x2="648.50" y2="625.2" stroke="#555" stroke-width="1"/>
<line x1="653.50" y1="628.2" x2="653.50" y2="625.2" stroke="#555" stroke-width="1"/>
<line x1="658.50" y1="628.2" x2="658.50" y2="625.2" stroke="#555" stroke-width="1"/>
<line x1="663.50" y1="628.2" x2="663.50" y2="622.2" stroke="#555" stroke-width="1"/>
<text x="409.20" y="643.6" text-anchor="middle" font-size="13" fill="#1a1a1a">−5</text>
<text x="434.66" y="643.6" text-anchor="middle" font-size="13" fill="#1a1a1a">−4</text>
<text x="460.12" y="643.6" text-anchor="middle" font-size="13" fill="#1a1a1a">−3</text>
<text x="485.58" y="643.6" text-anchor="middle" font-size="13" fill="#1a1a1a">−2</text>
<text x="511.04" y="643.6" text-anchor="middle" font-size="13" fill="#1a1a1a">−1</text>
<text x="536.50" y="643.6" text-anchor="middle" font-size="13" fill="#1a1a1a">0</text>
<text x="561.96" y="643.6" text-anchor="middle" font-size="13" fill="#1a1a1a">1</text>
<text x="587.42" y="643.6" text-anchor="middle" font-size="13" fill="#1a1a1a">2</text>
<text x="612.88" y="643.6" text-anchor="middle" font-size="13" fill="#1a1a1a">3</text>
<text x="638.34" y="643.6" text-anchor="middle" font-size="13" fill="#1a1a1a">4</text>
<text x="663.80" y="643.6" text-anchor="middle" font-size="13" fill="#1a1a1a">5</text>
<text x="536.5" y="662.3" text-anchor="middle" font-size="13" letter-spacing="0.12" fill="#1a1a1a">Data/signal prediction (<tspan font-family="Liberation Serif" font-style="italic" font-size="14">σ</tspan><tspan dy="3" font-size="10">data</tspan><tspan dy="-3">)</tspan></text>
<line x1="562.7" y1="485.1" x2="582.3" y2="485.1" stroke="#ee1c1c" stroke-width="1.4"/>
<text x="589.6" y="474.5" font-size="13" fill="#1a1a1a">Gaussian fit</text>
<text x="589.6" y="489.3" font-size="13" fill="#1a1a1a"><tspan font-family="Liberation Serif" font-style="italic" font-size="14">μ</tspan> = −0.01 ± 0.34</text>
<text x="589.6" y="503.4" font-size="13" fill="#1a1a1a"><tspan font-family="Liberation Serif" font-style="italic" font-size="14">σ</tspan> = 1.26 ± 0.42</text>
<text x="392.3" y="441.8" font-size="16.5" font-weight="bold" fill="#000">c</text>
</svg></body></html>
